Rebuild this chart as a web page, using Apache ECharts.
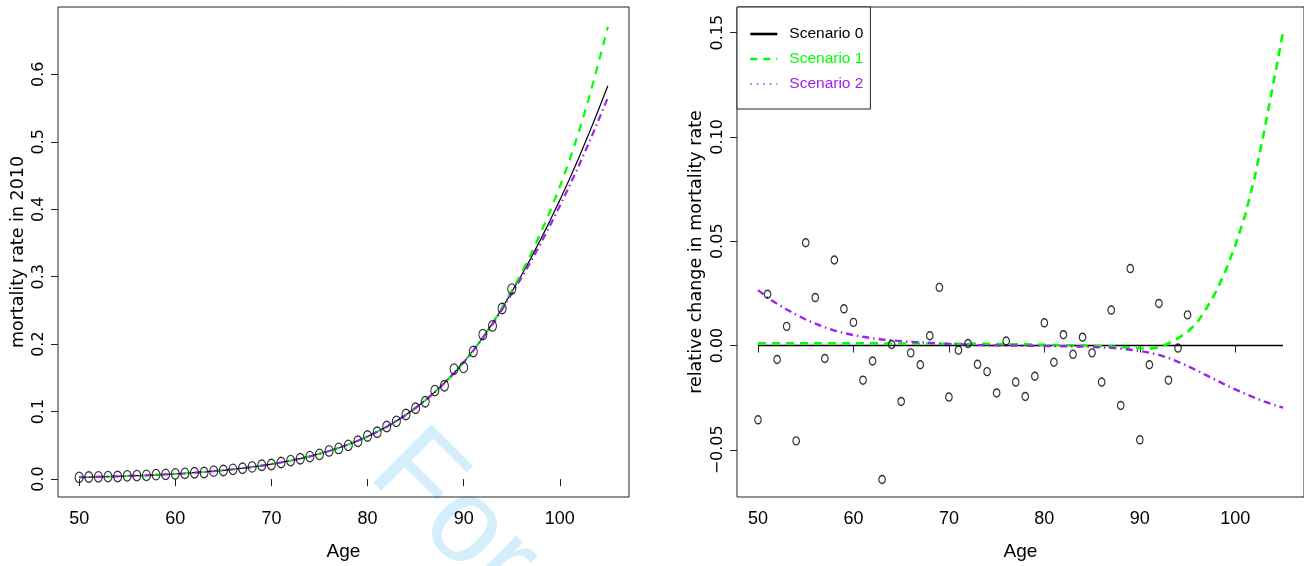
<!DOCTYPE html>
<html><head><meta charset="utf-8">
<script src="https://cdn.jsdelivr.net/npm/echarts@6/dist/echarts.min.js"></script>
<style>html,body{margin:0;padding:0;background:#fff}#c{width:1304px;height:566px}</style>
</head><body><div id="c"></div>
<script>
// ---- data ----
const agesFit = [50,51,52,53,54,55,56,57,58,59,60,61,62,63,64,65,66,67,68,69,70,71,72,73,74,75,76,77,78,79,80,81,82,83,84,85,86,87,88,89,90,91,92,93,94,95,96,97,98,99,100,101,102,103,104,105];
const agesObs = [50,51,52,53,54,55,56,57,58,59,60,61,62,63,64,65,66,67,68,69,70,71,72,73,74,75,76,77,78,79,80,81,82,83,84,85,86,87,88,89,90,91,92,93,94,95];

// left panel: mortality rate in 2010
const rateS0 = [.0026,.0029,.0033,.0036,.0040,.0045,.0050,.0055,.0062,.0069,
  .0076,.0085,.0095,.0105,.0117,.0130,.0145,.0161,.0179,.0199,
  .0221,.0246,.0273,.0304,.0337,.0375,.0416,.0462,.0513,.0569,
  .0631,.0700,.0776,.0860,.0953,.1054,.1166,.1289,.1424,.1572,
  .1733,.1909,.2100,.2308,.2532,.2775,.3017,.3275,.3550,.3835,
  .4135,.4445,.4772,.5110,.5465,.5830];
const rateS1 = [.0026,.0029,.0033,.0036,.0040,.0045,.0050,.0055,.0062,.0069,
  .0076,.0085,.0095,.0105,.0117,.0130,.0145,.0161,.0179,.0199,
  .0221,.0246,.0273,.0304,.0337,.0375,.0416,.0462,.0513,.0569,
  .0631,.0700,.0776,.0860,.0953,.1054,.1166,.1288,.1423,.1570,
  .1731,.1906,.2098,.2310,.2541,.2793,.3050,.3334,.3642,.3973,
  .4333,.4721,.5154,.5631,.6154,.6705];
const rateS2 = [.00267,.00297,.00337,.00366,.00406,.00456,.00505,.00555,.00624,.00694,
  .00764,.00854,.00953,.01053,.01173,.01303,.01453,.01612,.01792,.01992,
  .02212,.0246,.0273,.0304,.0337,.0375,.0416,.0462,.0513,.0569,
  .0631,.0700,.0776,.0860,.0953,.1054,.1165,.1288,.1422,.1569,
  .1728,.1903,.2091,.2294,.2512,.2748,.2981,.3228,.3491,.3763,
  .4048,.4343,.4653,.4973,.5310,.5656];
const rateObs = [.0025,.0030,.0033,.0036,.0038,.0047,.0051,.0055,.0065,.0070,
  .0077,.0084,.0094,.0098,.0117,.0127,.0144,.0160,.0180,.0205,
  .0216,.0245,.0273,.0301,.0333,.0366,.0417,.0454,.0500,.0561,
  .0638,.0694,.0780,.0856,.0957,.1050,.1146,.1311,.1383,.1630,
  .1655,.1891,.2142,.2270,.2529,.2816];

// right panel: relative change in mortality rate
const relS0 = [0,0,0,0,0,0,0,0,0,0, 0,0,0,0,0,0,0,0,0,0, 0,0,0,0,0,0,0,0,0,0,
  0,0,0,0,0,0,0,0,0,0, 0,0,0,0,0,0,0,0,0,0, 0,0,0,0,0,0];
const relS1 = [.0011,.0011,.0011,.0011,.0011,.0011,.0011,.0011,.0011,.0011,
  .0011,.0011,.0011,.0010,.0010,.0010,.0010,.0010,.0010,.0009,
  .0009,.0009,.0008,.0008,.0008,.0007,.0007,.0006,.0006,.0005,
  .0004,.0003,.0002,.0001,0,-.0001,-.0003,-.0005,-.0007,-.0010,
  -.0013,-.0015,-.0008,.0010,.0035,.0065,.0110,.0180,.0260,.0360,
  .0480,.0620,.0800,.1020,.1260,.1500];
const relS2 = [.0266,.0230,.0200,.0173,.0148,.0125,.0105,.0087,.0072,.0060,
  .0050,.0042,.0035,.0029,.0025,.0021,.0018,.0015,.0013,.0010,
  .0008,.0006,.0005,.0003,.0002,.0001,0,0,-.0001,-.0001,
  -.0002,-.0002,-.0003,-.0004,-.0005,-.0007,-.0009,-.0011,-.0015,-.0020,
  -.0026,-.0034,-.0045,-.0060,-.0078,-.0098,-.0120,-.0143,-.0166,-.0189,
  -.0210,-.0230,-.0250,-.0268,-.0284,-.0298];
const relObs = [-.0356,.0246,-.0067,.0092,-.0457,.0493,.0230,-.0062,.0410,.0176,
  .0111,-.0166,-.0074,-.0642,.0005,-.0268,-.0035,-.0092,.0047,.0279,
  -.0247,-.0022,.0010,-.0090,-.0125,-.0227,.0022,-.0175,-.0244,-.0147,
  .0109,-.0080,.0052,-.0042,.0040,-.0035,-.0175,.0170,-.0287,.0369,
  -.0452,-.0092,.0202,-.0166,-.0012,.0147];

const ageTicks = [50,60,70,80,90,100];
const rateTicks = [0,0.1,0.2,0.3,0.4,0.5,0.6];
const relTicks = [-0.05,0,0.05,0.1,0.15];
const scenarioNames = ['Scenario 0','Scenario 1','Scenario 2'];

// ---- chart ----
const zip = (xs, ys) => xs.map((x, i) => [x, ys[i]]);
const NARROW = "'Liberation Sans Narrow','Liberation Sans',Arial,sans-serif";
const WIDE = "'DejaVu Sans',sans-serif";
const BLACK = '#000000', GREEN = '#00ff00', PURPLE = '#a020f0';
const fmt = d => v => v.toFixed(d).replace('-', '\u2212');

function xAxis(gi) {
  return {
    gridIndex: gi, type: 'value', min: 47.8, max: 107.2,
    axisLine: {show: false}, splitLine: {show: false},
    axisTick: {show: true, length: 7, customValues: ageTicks, lineStyle: {color: '#222', width: 1}},
    axisLabel: {customValues: ageTicks, margin: 13, fontFamily: NARROW, fontSize: 18, color: '#000'},
    name: 'Age', nameLocation: 'middle', nameGap: 45,
    nameTextStyle: {fontFamily: NARROW, fontSize: 19, color: '#000'}
  };
}
function yAxis(gi, min, max, ticks, dec, name, gap) {
  return {
    gridIndex: gi, type: 'value', min: min, max: max,
    axisLine: {show: false}, splitLine: {show: false},
    axisTick: {show: true, length: 7, customValues: ticks, lineStyle: {color: '#222', width: 1}},
    axisLabel: {customValues: ticks, rotate: 90, margin: 11, fontFamily: WIDE, fontSize: 16, color: '#000', formatter: fmt(dec)},
    name: name, nameLocation: 'middle', nameRotate: 90, nameGap: gap,
    nameTextStyle: {fontFamily: WIDE, fontSize: 17.5, color: '#000'}
  };
}

const chart = echarts.init(document.getElementById('c'), null, {renderer: 'canvas'});
chart.setOption({
  animation: false,
  backgroundColor: '#ffffff',
  grid: [
    {left: 58, top: 7, width: 571, height: 491, show: true, borderColor: '#222', borderWidth: 1, backgroundColor: 'transparent'},
    {left: 737, top: 7, width: 571, height: 491, show: true, borderColor: '#222', borderWidth: 1, backgroundColor: 'transparent'}
  ],
  xAxis: [xAxis(0), xAxis(1)],
  yAxis: [
    yAxis(0, -0.0266, 0.6998, rateTicks, 1, 'mortality rate in 2010', 31),
    yAxis(1, -0.0726, 0.1623, relTicks, 2, 'relative change in mortality rate', 32)
  ],
  legend: {
    orient: 'vertical', left: 737, top: 7,
    backgroundColor: '#ffffff', borderColor: '#222', borderWidth: 1, borderRadius: 0,
    padding: [19, 7, 17, 12], itemWidth: 27, itemHeight: 14, itemGap: 9,
    selectedMode: false,
    itemStyle: {opacity: 0},
    textStyle: {fontFamily: NARROW, fontSize: 15.5, lineHeight: 16, padding: [0, 0, 0, 7]},
    data: [
      {name: scenarioNames[0], textStyle: {color: BLACK}, itemStyle: {opacity: 0}, lineStyle: {color: BLACK, width: 2.6, type: 'solid'}},
      {name: scenarioNames[1], textStyle: {color: GREEN}, itemStyle: {opacity: 0}, lineStyle: {color: GREEN, width: 2.6, type: [7, 6]}},
      {name: scenarioNames[2], textStyle: {color: PURPLE}, itemStyle: {opacity: 0}, lineStyle: {color: PURPLE, width: 1.6, type: [1.5, 5]}}
    ]
  },
  graphic: [{
    type: 'text', x: 360, y: 482, rotation: -Math.PI / 4, z: -10, silent: true,
    style: {text: 'For Peer Review', x: 0, y: -42, fontSize: 120,
      fontFamily: "'Liberation Sans',Arial,sans-serif", fill: '#d4eefb', verticalAlign: 'middle', align: 'left'}
  }],
  series: [
    // right panel
    {name: scenarioNames[0], type: 'line', xAxisIndex: 1, yAxisIndex: 1, data: zip(agesFit, relS0),
      symbol: 'none', color: BLACK, lineStyle: {color: BLACK, width: 1.6}, z: 2},
    {name: scenarioNames[1], type: 'line', xAxisIndex: 1, yAxisIndex: 1, data: zip(agesFit, relS1),
      symbol: 'none', color: GREEN, lineStyle: {color: GREEN, width: 2.6, type: [8, 6]}, z: 3},
    {name: scenarioNames[2], type: 'line', xAxisIndex: 1, yAxisIndex: 1, data: zip(agesFit, relS2),
      symbol: 'none', color: PURPLE, lineStyle: {color: PURPLE, width: 2.4, type: [7, 4, 1.5, 4]}, z: 4},
    {name: 'observed (right)', type: 'scatter', xAxisIndex: 1, yAxisIndex: 1, data: zip(agesObs, relObs),
      symbol: 'circle', symbolSize: [6.5, 8], itemStyle: {color: 'rgba(0,0,0,0)', borderColor: BLACK, borderWidth: 1.3}, z: 5},
    // left panel
    {name: scenarioNames[0], type: 'line', xAxisIndex: 0, yAxisIndex: 0, data: zip(agesFit, rateS0),
      symbol: 'none', color: BLACK, lineStyle: {color: BLACK, width: 1.2}, z: 2},
    {name: scenarioNames[1], type: 'line', xAxisIndex: 0, yAxisIndex: 0, data: zip(agesFit, rateS1),
      symbol: 'none', color: GREEN, lineStyle: {color: GREEN, width: 2.2, type: [8, 7]}, z: 3},
    {name: scenarioNames[2], type: 'line', xAxisIndex: 0, yAxisIndex: 0, data: zip(agesFit, rateS2),
      symbol: 'none', color: PURPLE, lineStyle: {color: PURPLE, width: 2.2, type: [7, 4, 1.5, 4]}, z: 4},
    {name: 'observed (left)', type: 'scatter', xAxisIndex: 0, yAxisIndex: 0, data: zip(agesObs, rateObs),
      symbol: 'circle', symbolSize: [8, 10.5], itemStyle: {color: 'rgba(0,0,0,0)', borderColor: BLACK, borderWidth: 1.2}, z: 5}
  ]
});
</script>
</body></html>
